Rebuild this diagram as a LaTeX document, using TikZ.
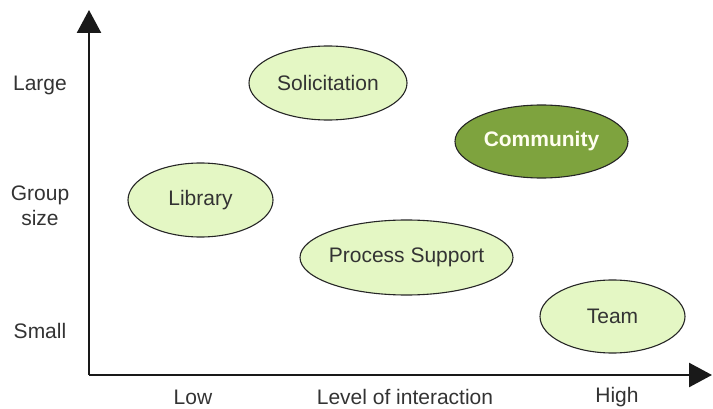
\documentclass[tikz,border=0pt]{standalone}
\usepackage{fontspec}
\setmainfont{Liberation Sans}
\usetikzlibrary{shapes.geometric,arrows.meta}
\definecolor{lightfill}{HTML}{E4F7C4}
\definecolor{darkfill}{HTML}{7EA33E}
\definecolor{txt}{HTML}{333333}
\begin{document}
\begin{tikzpicture}[x=1pt,y=-1pt,
  blob/.style={ellipse,draw=black!85,line width=1.1pt,fill=lightfill,inner xsep=-30pt,inner ysep=-5pt,
    font=\fontsize{21}{25}\selectfont,text=txt},
  lab/.style={font=\fontsize{21}{25}\selectfont,text=txt,align=center},
  axis/.style={line width=2.6pt,draw=black!90,-{Triangle[length=23pt,width=24pt]}}]
\useasboundingbox (0,0) rectangle (713,409);
\coordinate (O) at (89,375);
\coordinate (Ytop) at (89,10);
\coordinate (Xend) at (712,375);
\draw[axis] (O) -- (Ytop);
\draw[axis] (O) -- (Xend);
\node[blob,minimum width=158pt,minimum height=74pt] (sol) at (328,83) {Solicitation};
\node[blob,fill=darkfill,minimum width=173pt,minimum height=73pt,text=white!94!yellow,font=\fontsize{21}{25}\selectfont\bfseries] (com) at (541.5,141.5) {Community};
\node[blob,minimum width=145pt,minimum height=74pt] (lib) at (200.5,200) {Library};
\node[blob,minimum width=213pt,minimum height=75pt] (proc) at (406.5,257.5) {Process Support};
\node[blob,minimum width=145pt,minimum height=73pt] (team) at (612.5,316.5) {Team};
\node[lab] (large) at (40,85) {Large};
\node[lab] (group) at (40,205.5) {Group\\size};
\node[lab] (small) at (40,331) {Small};
\node[lab] (low) at (193,397) {Low};
\node[lab] (level) at (405,397) {Level of interaction};
\node[lab] (high) at (617,397) {High};
\end{tikzpicture}
\end{document}
